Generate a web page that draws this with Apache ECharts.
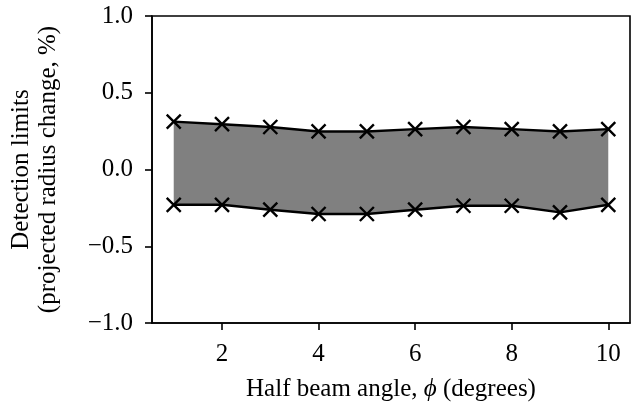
<!DOCTYPE html>
<html>
<head>
<meta charset="utf-8">
<script src="https://cdn.jsdelivr.net/npm/echarts@6/dist/echarts.min.js"></script>
<style>html,body{margin:0;padding:0;background:#fff;}#c{width:640px;height:407px;}</style>
</head>
<body>
<div id="c"></div>
<script>
const angles = [1, 2, 3, 4, 5, 6, 7, 8, 9, 10];
const upperLimits = [0.312, 0.295, 0.277, 0.248, 0.248, 0.263, 0.277, 0.263, 0.248, 0.263];
const lowerLimits = [-0.230, -0.230, -0.262, -0.290, -0.290, -0.262, -0.236, -0.236, -0.279, -0.230];
const xTicks = [2, 4, 6, 8, 10];

const FONT = 'Liberation Serif';
const FS = 25;
const cross = 'path://M0,0L10,10M10,0L0,10';

const chart = echarts.init(document.getElementById('c'), null, {renderer: 'canvas'});
const pair = (arr) => angles.map((a, i) => [a, arr[i]]);
const fmt = v => (v < 0 ? '\u2212' : '') + Math.abs(v).toFixed(1);

chart.setOption({
  animation: false,
  grid: {left: 152, right: 10, top: 16, bottom: 81, show: true, borderColor: '#000', borderWidth: 1.6, backgroundColor: 'transparent'},
  xAxis: {
    type: 'value', min: 0.55, max: 10.45,
    splitLine: {show: false},
    axisLine: {show: true, onZero: false, lineStyle: {color: '#000', width: 1.6}},
    axisTick: {show: true, length: 7, customValues: xTicks, lineStyle: {color: '#000', width: 1.6}},
    axisLabel: {customValues: xTicks, color: '#000', fontFamily: FONT, fontSize: FS, margin: 19},
    name: 'Half beam angle, {i|\u03d5} (degrees)',
    nameLocation: 'middle', nameGap: 54,
    nameTextStyle: {color: '#000', fontFamily: FONT, fontSize: FS,
      rich: {i: {fontStyle: 'italic', fontFamily: FONT, fontSize: FS, color: '#000'}}}
  },
  yAxis: {
    type: 'value', min: -1, max: 1, interval: 0.5,
    splitLine: {show: false},
    axisLine: {show: true, onZero: false, lineStyle: {color: '#000', width: 1.6}},
    axisTick: {show: true, length: 7, lineStyle: {color: '#000', width: 1.6}},
    axisLabel: {color: '#000', fontFamily: FONT, fontSize: FS, margin: 19, formatter: fmt},
    name: 'Detection limits\n(projected radius change, %)',
    nameLocation: 'middle', nameGap: 90, nameRotate: 90,
    nameTextStyle: {color: '#000', fontFamily: FONT, fontSize: FS, lineHeight: 27}
  },
  series: [
    {type: 'custom', data: pair(upperLimits), encode: {x: 0, y: 1}, silent: true, z: 1,
     renderItem: function (params, api) {
       if (params.dataIndex !== 0) return null;
       const top = angles.map((a, i) => api.coord([a, upperLimits[i]]));
       const bottom = angles.map((a, i) => api.coord([a, lowerLimits[i]])).reverse();
       return {type: 'polygon', shape: {points: top.concat(bottom)}, style: {fill: '#808080'}};
     }},
    {type: 'line', data: pair(upperLimits), symbol: cross, symbolSize: 14,
     lineStyle: {color: '#000', width: 2.4}, itemStyle: {color: 'none', borderColor: '#000', borderWidth: 2.4}, z: 3},
    {type: 'line', data: pair(lowerLimits), symbol: cross, symbolSize: 14,
     lineStyle: {color: '#000', width: 2.4}, itemStyle: {color: 'none', borderColor: '#000', borderWidth: 2.4}, z: 3}
  ]
});
</script>
</body>
</html>
